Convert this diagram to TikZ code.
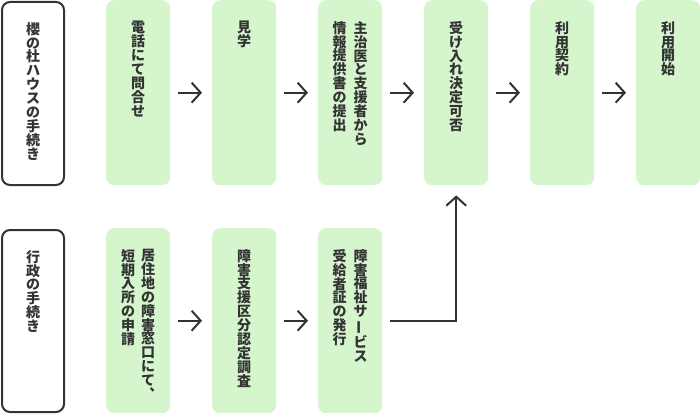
\documentclass[tikz,border=0pt]{standalone}
\usepackage{fontspec}
\usepackage{graphicx}
\usetikzlibrary{arrows.meta}
\newfontfamily\jp{Noto Sans CJK JP}
\definecolor{boxgreen}{HTML}{D5F6CD}
\definecolor{ink}{HTML}{333333}
\newcommand{\vbar}{\rotatebox[origin=c]{90}{ー}}
\newcommand{\vcomma}{︑}
\tikzset{
  stepbox/.style={fill=boxgreen, draw=none, rounded corners=8pt, minimum width=64pt, minimum height=185pt, inner sep=0pt, anchor=north west},
  headbox/.style={draw=ink, line width=2pt, rounded corners=8pt, fill=white, minimum width=62pt, minimum height=183pt, inner sep=0pt, anchor=north west},
  vtxt/.style={font=\jp\bfseries\fontsize{14pt}{13.9pt}\selectfont, text=ink, align=center, inner sep=0pt, anchor=north},
  flow/.style={draw=ink, line width=2pt, -{Straight Barb[length=9pt,width=20pt]}, shorten <=8pt, shorten >=10pt},
}
\begin{document}
\begin{tikzpicture}[x=1pt,y=-1pt]
\useasboundingbox (0,0) rectangle (700,414);
% top row
\node[headbox] (h1) at (1,1) {};
\node[stepbox] (t1) at (106,0) {};
\node[stepbox] (t2) at (212,0) {};
\node[stepbox] (t3) at (318,0) {};
\node[stepbox] (t4) at (424,0) {};
\node[stepbox] (t5) at (530,0) {};
\node[stepbox] (t6) at (636,0) {};
% bottom row
\node[headbox, minimum height=182pt] (h2) at (1,229) {};
\node[stepbox] (b1) at (106,228) {};
\node[stepbox] (b2) at (212,228) {};
\node[stepbox] (b3) at (318,228) {};
% texts
\node[vtxt] (h1t) at ([yshift=-21pt]h1.north) {櫻\\の\\杜\\ハ\\ウ\\ス\\の\\手\\続\\き};
\node[vtxt] (t1t) at ([yshift=-21pt]t1.north) {電\\話\\に\\て\\問\\合\\せ};
\node[vtxt] (t2t) at ([yshift=-21pt]t2.north) {見\\学};
\node[vtxt] (t3r) at ([xshift=10.5pt,yshift=-21pt]t3.north) {主\\治\\医\\と\\支\\援\\者\\か\\ら};
\node[vtxt] (t3l) at ([xshift=-10.5pt,yshift=-21pt]t3.north) {情\\報\\提\\供\\書\\の\\提\\出};
\node[vtxt] (t4t) at ([yshift=-21pt]t4.north) {受\\け\\入\\れ\\決\\定\\可\\否};
\node[vtxt] (t5t) at ([yshift=-21pt]t5.north) {利\\用\\契\\約};
\node[vtxt] (t6t) at ([yshift=-21pt]t6.north) {利\\用\\開\\始};
\node[vtxt] (h2t) at ([yshift=-21pt]h2.north) {行\\政\\の\\手\\続\\き};
\node[vtxt] (b1r) at ([xshift=10pt,yshift=-21pt]b1.north) {居\\住\\地\\の\\障\\害\\窓\\口\\に\\て\\\vcomma};
\node[vtxt] (b1l) at ([xshift=-10pt,yshift=-21pt]b1.north) {短\\期\\入\\所\\の\\申\\請};
\node[vtxt] (b2t) at ([yshift=-21pt]b2.north) {障\\害\\支\\援\\区\\分\\認\\定\\調\\査};
\node[vtxt] (b3r) at ([xshift=10.5pt,yshift=-21pt]b3.north) {障\\害\\福\\祉\\サ\\\vbar\\ビ\\ス};
\node[vtxt] (b3l) at ([xshift=-10.5pt,yshift=-21pt]b3.north) {受\\給\\者\\証\\の\\発\\行};
% connectors
\draw[flow] (t1.east) -- (t2.west);
\draw[flow] (t2.east) -- (t3.west);
\draw[flow] (t3.east) -- (t4.west);
\draw[flow] (t4.east) -- (t5.west);
\draw[flow] (t5.east) -- (t6.west);
\draw[flow] (b1.east) -- (b2.west);
\draw[flow] (b2.east) -- (b3.west);
\draw[flow] (b3.east) -| (t4.south);
\end{tikzpicture}
\end{document}
